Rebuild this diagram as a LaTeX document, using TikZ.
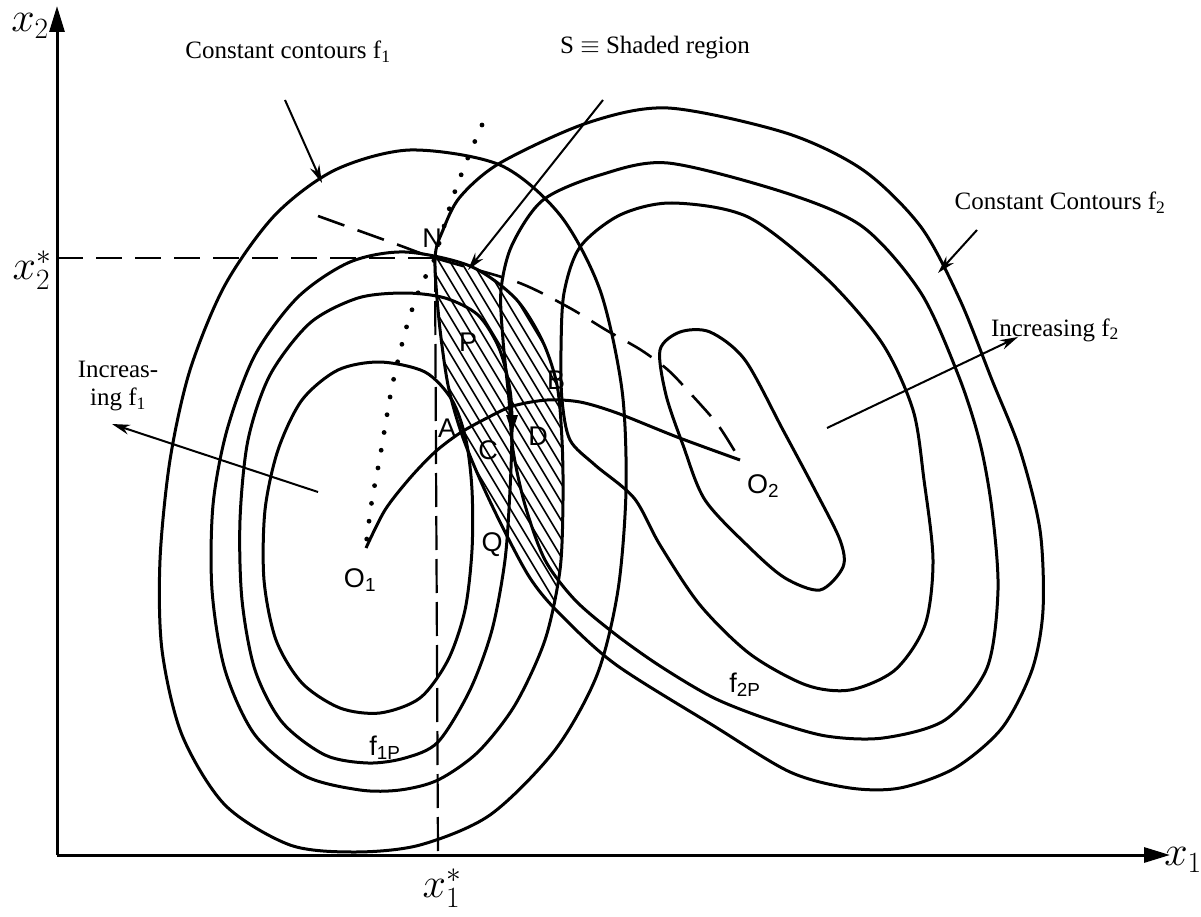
\RequirePackage{fix-cm}
\documentclass[tikz,border=0pt]{standalone}
\usepackage{fontspec}
\setmainfont{Liberation Serif}
\newfontfamily\labfont{Liberation Sans}
\usetikzlibrary{arrows.meta}
\begin{document}
\begin{tikzpicture}[x=1pt,y=-1pt,line join=round,
  contour/.style={line width=3pt},
  axisline/.style={line width=3pt,-{Triangle[length=26pt,width=15pt]}},
  guide/.style={line width=2.6pt,dash pattern=on 26pt off 13pt},
  vguide/.style={line width=2.2pt,dash pattern=on 34pt off 9pt},
  dotline/.style={line width=4.8pt,line cap=round,dash pattern=on 0pt off 18pt},
  pointer/.style={line width=2pt,-{Stealth[length=18pt,width=10pt]}},
  hatchline/.style={line width=1.6pt},
  txt/.style={inner sep=0pt,font=\fontsize{25}{28}\selectfont},
  mathlab/.style={inner sep=0pt,font=\fontsize{42}{46}\selectfont},
  ptlab/.style={inner sep=0pt,font=\labfont\fontsize{27}{29}\selectfont}]
\useasboundingbox (0,0) rectangle (1201,917);
\def\fonefour{plot[smooth cycle] coordinates{(410,150) (500,165) (560,215) (600,290) (622,390) (626,490) (618,590) (597,675) (555,750) (490,815) (420,845) (355,852) (290,845) (225,805) (182,735) (162,650) (160,560) (170,460) (190,370) (225,285) (275,215) (335,170)}}
\def\fonethree{plot[smooth cycle] coordinates{(405,252) (470,266) (515,298) (542,340) (557,385) (562,440) (563,500) (560,570) (545,640) (515,705) (478,752) (438,780) (400,790) (360,790) (305,776) (255,735) (225,670) (212,590) (213,505) (227,430) (255,355) (298,297) (350,262)}}
\def\fonetwo{plot[smooth cycle] coordinates{(405,293) (445,298) (478,315) (499,348) (510,390) (512,430) (510,490) (505,560) (492,630) (470,690) (438,742) (405,758) (368,763) (325,755) (282,722) (255,670) (242,600) (240,520) (248,440) (270,375) (310,323) (358,298)}}
\def\foneone{plot[smooth cycle] coordinates{(380,362) (425,372) (452,400) (466,440) (472,490) (472,550) (465,610) (448,660) (420,698) (380,713) (340,708) (302,683) (276,640) (264,580) (265,510) (278,450) (302,400) (338,370)}}
\def\ftwofour{plot[smooth cycle] coordinates{(435,258) (443,230) (460,197) (500,163) (587,123) (668,108) (786,133) (863,170) (921,227) (960,300) (992,380) (1020,450) (1040,530) (1043,610) (1032,670) (1002,728) (955,768) (900,788) (850,788) (790,772) (714,726) (615,664) (557,611) (530,578) (505,532) (482,484) (462,435) (448,385) (439,320)}}
\def\ftwothree{plot[smooth cycle] coordinates{(668,163) (786,193) (863,227) (921,293) (959,377) (980,443) (992,510) (998,590) (987,668) (945,720) (883,738) (826,736) (770,720) (714,698) (660,666) (615,634) (575,600) (545,560) (525,505) (513,450) (509,400) (503,340) (501,290) (512,245) (543,200) (600,175)}}
\def\ftwotwo{plot[smooth cycle] coordinates{(672,203) (748,217) (825,277) (882,343) (913,410) (924,480) (933,560) (925,625) (895,670) (850,690) (806,685) (750,654) (700,605) (660,545) (634,498) (595,465) (570,440) (562,400) (561,350) (564,293) (580,247) (620,215)}}
\def\ftwoone{plot[smooth cycle] coordinates{(660,350) (680,332) (710,332) (745,360) (783,430) (815,490) (840,540) (843,567) (820,590) (785,578) (750,548) (705,500) (683,445) (666,395)}}
% hatched region S
\begin{scope}
  \clip \fonethree;
  \clip \ftwofour;
  \foreach \i in {0,...,36} \draw[hatchline] (160+\i*11,200) -- ++(300,500);
\end{scope}
% contours
\draw[contour] \fonefour;
\draw[contour] \fonethree;
\draw[contour] \fonetwo;
\draw[contour] \foneone;
\draw[contour] \ftwofour;
\draw[contour] \ftwothree;
\draw[contour] \ftwotwo;
\draw[contour] \ftwoone;
% key points
\coordinate (O) at (57,855);
\coordinate (ytip) at (57,6);
\coordinate (xtip) at (1170,855);
\coordinate (N) at (435,258);
\coordinate (O1) at (366,548);
\coordinate (O2) at (740,460);
\coordinate (y2s) at (57,258);
\coordinate (x1s) at (438,855);
% axes
\draw[axisline] (O) -- (ytip);
\draw[axisline] (O) -- (xtip);
% guide lines
\draw[guide] (y2s) -- (N);
\draw[vguide] (N) -- (x1s);
% dotted line
\draw[dotline] plot[smooth] coordinates{(482,125) (467,160) (453,197) (440,240) (435,258) (420,288) (408,322) (400,352) (391,392) (380,457) (372,500) (366,545)};
% dashed line N -- O2
\draw[guide,dash pattern=on 28pt off 14pt] plot[smooth] coordinates{(318,216) (393,243) (435,258) (517,282) (568,307) (606,330) (641,350) (668,370) (690,393) (718,425) (740,460)};
% Pareto curve
\draw[contour] plot[smooth] coordinates{(366,548) (385,510) (410,478) (435,452) (460,433) (487,418) (513,406) (547,400) (580,402) (617,413) (677,437) (740,460)};
\fill (506,415) -- (518,415) -- (512,433) -- cycle;
% text labels
\node[mathlab] (lx2) at (30,26) {$x_2$};
\node[mathlab] (lx2s) at (32,270) {$x_2^*$};
\node[mathlab] (lx1s) at (442,888) {$x_1^*$};
\node[mathlab] (lx1) at (1183,860) {$x_1$};
\node[txt] (cf1) at (288,52) {Constant contours f\textsubscript{1}};
\node[txt] (sreg) at (655,48) {S $\equiv$ Shaded region};
\node[txt] (cf2) at (1060,203) {Constant Contours f\textsubscript{2}};
\node[txt] (if2) at (1055,330) {Increasing f\textsubscript{2}};
\node[txt,align=center] (if1) at (118,386) {Increas-\\ing f\textsubscript{1}};
% pointers
\coordinate (a1s) at (285,100); \coordinate (a1e) at (322,183);
\coordinate (a2s) at (603,100); \coordinate (a2e) at (468,270);
\coordinate (a3s) at (977,230); \coordinate (a3e) at (938,273);
\coordinate (a4s) at (827,428); \coordinate (a4e) at (1018,337);
\coordinate (a5s) at (318,492); \coordinate (a5e) at (112,424);
\draw[pointer] (a1s) -- (a1e);
\draw[pointer] (a2s) -- (a2e);
\draw[pointer] (a3s) -- (a3e);
\draw[pointer] (a4s) -- (a4e);
\draw[pointer] (a5s) -- (a5e);
% point labels
\node[ptlab] (lN) at (432,238) {N};
\node[ptlab] (lP) at (468,342) {P};
\node[ptlab] (lA) at (447,428) {A};
\node[ptlab] (lC) at (488,450) {C};
\node[ptlab] (lB) at (556,380) {B};
\node[ptlab] (lD) at (538,436) {D};
\node[ptlab] (lQ) at (492,545) {Q};
\node[ptlab] (lO1) at (360,580) {O\textsubscript{1}};
\node[ptlab] (lO2) at (763,486) {O\textsubscript{2}};
\node[ptlab] (lf1) at (385,748) {f\textsubscript{1P}};
\node[ptlab] (lf2) at (745,685) {f\textsubscript{2P}};
\end{tikzpicture}
\end{document}
